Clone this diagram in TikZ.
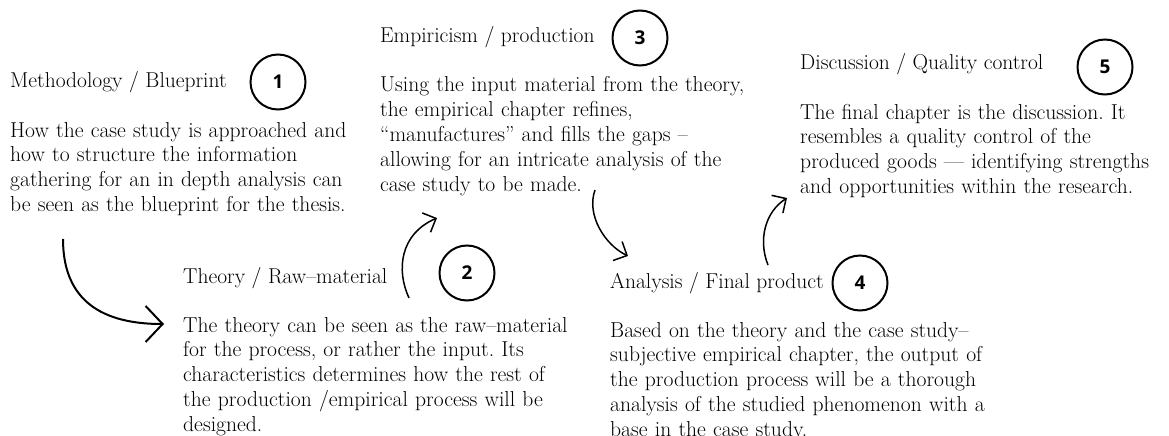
\documentclass[tikz,border=0pt]{standalone}
\usepackage{fontspec}
\newfontfamily\numfont{Open Sans}
\usetikzlibrary{arrows.meta}
\frenchspacing
\begin{document}
\begin{tikzpicture}[x=1pt,y=-1pt,
  title/.style={anchor=base west, inner sep=0pt, font=\fontsize{21.5}{24}\selectfont},
  body/.style={anchor=base west, inner sep=0pt, text width=600pt, align=left, font=\fontsize{21.6}{24.75}\selectfont},
  num/.style={circle, draw, line width=2pt, minimum size=55pt, inner sep=0pt, font=\numfont\bfseries\fontsize{19}{19}\selectfont},
  bigarrow/.style={line width=2pt, -{Straight Barb[length=17pt,width=36pt]}},
  smallarrow/.style={line width=1.5pt, -{Straight Barb[length=10.5pt,width=21pt]}}]
\useasboundingbox (0,0) rectangle (1169,436);
\fill[white] (0,0) rectangle (1169,436);

% Block 1
\node[title] (t1) at (10,88) {Methodology / Blueprint};
\node[num] (n1) at (278,82) {1};
\node[body] (b1) at (10,137) {How the case study is approached and\\how to structure the information\\gathering for an in depth analysis can\\be seen as the blueprint for the thesis.};

% Block 2
\node[title] (t2) at (183,283) {Theory / Raw–material};
\node[num] (n2) at (467,273) {2};
\node[body] (b2) at (183,332) {The theory can be seen as the raw–material\\for the process, or rather the input. Its\\characteristics determines how the rest of\\the production /empirical process will be\\designed.};

% Block 3
\node[title] (t3) at (380,42) {Empiricism / production};
\node[num] (n3) at (640,38) {3};
\node[body] (b3) at (380,92) {Using the input material from the theory,\\the empirical chapter refines,\\“manufactures” and fills the gaps –\\allowing for an intricate analysis of the\\case study to be made.};

% Block 4
\node[title] (t4) at (610,288) {Analysis / Final product};
\node[num] (n4) at (860,283) {4};
\node[body] (b4) at (610,337) {Based on the theory and the case study–\\subjective empirical chapter, the output of\\the production process will be a thorough\\analysis of the studied phenomenon with a\\base in the case study.};

% Block 5
\node[title] (t5) at (800,70) {Discussion / Quality control};
\node[num] (n5) at (1105,67) {5};
\node[body] (b5) at (800,119) {The final chapter is the discussion. It\\resembles a quality control of the\\produced goods — identifying strengths\\and opportunities within the research.};

% Arrow end points
\coordinate (a1s) at (63,239);
\coordinate (a1e) at (164,324);
\coordinate (a2s) at (409,298);
\coordinate (a2e) at (437,218);
\coordinate (a3s) at (595,190);
\coordinate (a3e) at (628,256);
\coordinate (a4s) at (768,265);
\coordinate (a4e) at (787,198);

\draw[bigarrow] (a1s) .. controls (63,294) and (94,324) .. (a1e);
\draw[smallarrow] (a2s) .. controls (396,270) and (400,234) .. (a2e);
\draw[smallarrow] (a3s) .. controls (586,215) and (605,245) .. (a3e);
\draw[smallarrow] (a4s) .. controls (758,240) and (765,212) .. (a4e);
\end{tikzpicture}
\end{document}
